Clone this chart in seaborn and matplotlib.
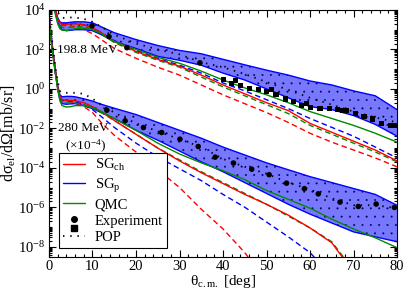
import numpy as np
import matplotlib
matplotlib.use('Agg')
import matplotlib.pyplot as plt
import seaborn as sns
from matplotlib.lines import Line2D
from matplotlib.patches import Patch
from matplotlib.legend_handler import HandlerBase
from matplotlib.ticker import LogLocator, MultipleLocator, NullFormatter

# scattering angle grid (deg) shared by all curves
ang = [0, 0.5, 1, 1.5, 2, 2.5, 3, 4, 5, 6, 8, 10, 12, 15, 20, 25, 30, 35, 40, 45, 50, 55, 60, 65, 70, 75, 80]

# ---- 198.8 MeV, log10(dsigma/dOmega) ----
band198_hi = [7.0, 6.0, 4.8, 4.0, 3.6, 3.4, 3.35, 3.35, 3.38, 3.4, 3.4, 3.35, 3.15, 2.85, 2.5, 2.2, 1.95, 1.78, 1.5, 1.22, 0.95, 0.7, 0.4, 0.2, -0.1, -0.35, -1.05]
band198_lo = [6.9, 5.9, 4.6, 3.8, 3.4, 3.15, 3.0, 2.95, 2.97, 3.0, 3.0, 2.95, 2.75, 2.4, 2.05, 1.65, 1.45, 1.2, 0.8, 0.45, 0.0, -0.45, -0.9, -1.05, -1.35, -1.8, -2.4]
pop198 = [7.2, 6.2, 5.0, 4.3, 3.9, 3.7, 3.6, 3.6, 3.62, 3.62, 3.55, 3.4, 3.15, 2.75, 2.3, 2.0, 1.75, 1.35, 1.1, 0.75, 0.35, -0.05, -0.45, -0.8, -1.15, -1.45, -1.7]
sgch198 = [7.0, 6.0, 4.75, 3.95, 3.55, 3.35, 3.28, 3.27, 3.3, 3.3, 3.25, 3.1, 2.85, 2.4, 1.9, 1.5, 1.15, 0.7, 0.2, -0.25, -0.7, -1.1, -1.75, -2.2, -2.65, -3.1, -3.65]
sgch198_d = [6.9, 5.9, 4.7, 3.9, 3.5, 3.3, 3.22, 3.2, 3.2, 3.15, 3.0, 2.8, 2.5, 2.05, 1.55, 1.1, 0.7, 0.2, -0.3, -0.75, -1.2, -1.7, -2.25, -2.7, -3.1, -3.5, -3.95]
sgp198_d = [7.0, 6.0, 4.75, 3.95, 3.55, 3.35, 3.3, 3.3, 3.32, 3.32, 3.25, 3.1, 2.85, 2.45, 1.95, 1.55, 1.2, 0.8, 0.3, -0.1, -0.55, -1.0, -1.5, -1.95, -2.4, -2.95, -3.5]
qmc198 = [6.8, 5.8, 4.55, 3.75, 3.3, 3.05, 2.98, 2.96, 3.0, 3.05, 3.08, 3.0, 2.8, 2.4, 2.0, 1.6, 1.3, 0.9, 0.45, 0.05, -0.3, -0.7, -1.15, -1.5, -1.85, -2.25, -2.7]
qmc198_d = [6.9, 5.9, 4.65, 3.85, 3.45, 3.22, 3.12, 3.1, 3.12, 3.15, 3.15, 3.05, 2.8, 2.35, 1.85, 1.45, 1.1, 0.6, 0.1, -0.35, -0.8, -1.25, -1.85, -2.3, -2.75, -3.2, -3.7]

exp198_circ_x = [9.9, 13.8, 17.9, 34.7]
exp198_circ_y = [3.2, 2.65, 2.09, 1.32]
exp198_sq_x = [40.1, 42.0, 42.9, 44.1, 46.1, 48.1, 50.0, 51.2, 52.2, 54.3, 56.2, 58.1, 59.2, 60.2, 62.3, 64.4, 66.4, 67.4, 68.4, 70.4, 72.4, 74.4, 76.5, 78.6, 80.0]
exp198_sq_y = [0.49, 0.29, 0.41, 0.17, 0.03, -0.05, -0.14, -0.02, -0.27, -0.51, -0.64, -0.85, -0.74, -0.95, -1.01, -1.01, -1.05, -1.1, -1.1, -1.23, -1.4, -1.53, -1.74, -1.84, -1.84]

# ---- 280 MeV (x 1e-4), log10 ----
band280_hi = [3.8, 2.7, 1.8, 0.95, 0.2, -0.3, -0.4, -0.38, -0.38, -0.4, -0.5, -0.62, -0.78, -0.98, -1.3, -1.7, -2.1, -2.5, -2.95, -3.35, -3.75, -4.1, -4.45, -4.75, -5.05, -5.35, -5.9]
band280_lo = [3.7, 2.6, 1.6, 0.75, 0.0, -0.55, -0.75, -0.78, -0.76, -0.75, -0.85, -1.0, -1.2, -1.5, -2.1, -2.6, -3.15, -3.7, -4.2, -4.75, -5.3, -5.85, -6.35, -6.8, -7.25, -7.5, -7.75]
pop280 = [3.9, 2.8, 1.9, 1.05, 0.4, -0.1, -0.2, -0.2, -0.2, -0.2, -0.25, -0.5, -0.8, -1.2, -1.75, -2.15, -2.55, -2.95, -3.55, -3.95, -4.3, -4.75, -5.1, -5.55, -5.9, -5.9, -6.05]
sgch280 = [3.7, 2.5, 1.7, 0.85, 0.1, -0.4, -0.55, -0.58, -0.58, -0.6, -0.7, -0.9, -1.15, -1.6, -2.3, -3.0, -3.65, -4.25, -4.8, -5.35, -5.85, -6.4, -7.05, -7.8, -9.3, np.nan, np.nan]
sgch280_d = [3.6, 2.4, 1.6, 0.75, 0.0, -0.45, -0.6, -0.62, -0.65, -0.7, -0.9, -1.2, -1.7, -2.35, -3.2, -4.1, -5.0, -6.1, -7.1, -8.3, -9.8, np.nan, np.nan, np.nan, np.nan, np.nan, np.nan]
sgp280_d = [3.7, 2.5, 1.7, 0.85, 0.1, -0.4, -0.55, -0.6, -0.62, -0.65, -0.8, -1.05, -1.4, -1.95, -2.75, -3.45, -4.05, -4.65, -5.35, -6.0, -6.75, -7.5, -8.3, -9.5, np.nan, np.nan, np.nan]
qmc280 = [3.6, 2.4, 1.6, 0.75, 0.0, -0.6, -0.85, -0.92, -0.9, -0.85, -0.85, -0.95, -1.15, -1.5, -2.1, -2.75, -3.3, -3.75, -4.15, -4.6, -5.15, -5.6, -6.05, -6.6, -7.1, -7.55, -8.05]
qmc280_d = [3.65, 2.45, 1.65, 0.8, 0.05, -0.5, -0.7, -0.72, -0.72, -0.72, -0.8, -0.95, -1.2, -1.6, -2.3, -3.0, -3.6, -4.2, -4.75, -5.3, -5.85, -6.45, -7.05, -7.75, -9.2, np.nan, np.nan]

exp280_x = [13.3, 17.5, 21.7, 25.9, 30.1, 34.3, 38.2, 42.4, 46.6, 50.6, 54.6, 58.7, 61.9, 66.9, 71.1, 75.2, 79.4]
exp280_y = [-1.08, -1.62, -1.96, -2.21, -2.55, -2.92, -3.46, -3.76, -4.07, -4.35, -4.78, -5.06, -5.32, -5.74, -5.96, -5.84, -6.01]

ytick_exp = [-8, -6, -4, -2, 0, 2, 4]

RED, BLUE, GREEN = '#ff0000', '#0000ff', '#008a00'
BANDC = '#7878ff'
DASH = (0, (4, 2.5))
DOTS = (0, (0.8, 3.2))

sns.set_style('ticks')
plt.rcParams['font.family'] = ['Liberation Serif', 'DejaVu Serif']
plt.rcParams['mathtext.fontset'] = 'custom'
plt.rcParams['mathtext.rm'] = 'Liberation Serif'
plt.rcParams['mathtext.it'] = 'Liberation Serif:italic'
plt.rcParams['hatch.linewidth'] = 0.2
for k in ['text.color', 'axes.labelcolor', 'xtick.color', 'ytick.color', 'axes.edgecolor']:
    plt.rcParams[k] = 'k'

fig = plt.figure(figsize=(4.11, 2.93), dpi=100, facecolor='white')
ax = fig.add_axes([0.1192, 0.1229, 0.8468, 0.8430], facecolor='white')


def p(v):
    return 10 ** np.asarray(v, dtype=float)


for hi, lo in [(band198_hi, band198_lo), (band280_hi, band280_lo)]:
    ax.fill_between(ang, p(lo), p(hi), facecolor=BANDC, edgecolor='#00005a', hatch='..', linewidth=0)
    sns.lineplot(x=ang, y=p(hi), color=BLUE, lw=1, ax=ax)
    sns.lineplot(x=ang, y=p(lo), color=BLUE, lw=1, ax=ax)

for q, qd, s, sd, pd_ in [(qmc198, qmc198_d, sgch198, sgch198_d, sgp198_d),
                          (qmc280, qmc280_d, sgch280, sgch280_d, sgp280_d)]:
    sns.lineplot(x=ang, y=p(sd), color=RED, lw=1, linestyle=DASH, ax=ax)
    sns.lineplot(x=ang, y=p(pd_), color=BLUE, lw=1, linestyle=DASH, ax=ax)
    sns.lineplot(x=ang, y=p(qd), color=GREEN, lw=1, linestyle=DASH, ax=ax)
    sns.lineplot(x=ang, y=p(s), color=RED, lw=1, ax=ax)
    sns.lineplot(x=ang, y=p(q), color=GREEN, lw=1, ax=ax)

for pp in [pop198, pop280]:
    sns.lineplot(x=ang, y=p(pp), color='k', lw=1.3, linestyle=DOTS, ax=ax)

sns.scatterplot(x=exp198_circ_x, y=p(exp198_circ_y), marker='o', color='k', s=16, edgecolor='none', ax=ax, zorder=5)
sns.scatterplot(x=exp198_sq_x, y=p(exp198_sq_y), marker='s', color='k', s=14, edgecolor='none', ax=ax, zorder=5)
sns.scatterplot(x=exp280_x, y=p(exp280_y), marker='o', color='k', s=16, edgecolor='none', ax=ax, zorder=5)

ax.set_yscale('log')
ax.set_xlim(0, 80)
ax.set_ylim(3e-9, 1e4)
ax.xaxis.set_major_locator(MultipleLocator(10))
ax.xaxis.set_minor_locator(MultipleLocator(2))
ax.set_yticks(p(ytick_exp))
ax.set_yticklabels(['10$^{%d}$' % e for e in ytick_exp])
ax.yaxis.set_minor_locator(LogLocator(base=10, subs=np.arange(1, 10), numticks=40))
ax.yaxis.set_minor_formatter(NullFormatter())
ax.set_ylim(3e-9, 1e4)
ax.tick_params(which='both', direction='in', top=True, right=True, labelsize=10.5, width=0.8, pad=2.5)
ax.tick_params(which='major', length=5)
ax.tick_params(which='minor', length=2.5)
for sp in ax.spines.values():
    sp.set_linewidth(0.8)

ax.set_xlabel('θ$_{\\rm c.m.}$ [deg]', fontsize=11, labelpad=0)
ax.set_ylabel('dσ$_{\\rm el}$/dΩ[mb/sr]', fontsize=11.5, labelpad=0)

ax.text(1.9, p(1.97), '198.8 MeV', fontsize=9.5, va='center')
ax.text(2.1, p(-1.97), '280 MeV', fontsize=9.5, va='center')
ax.text(3.6, p(-2.9), '(×10$^{-4}$)', fontsize=9.5, va='center')


class HandlerStack(HandlerBase):
    def create_artists(self, legend, orig_handle, xdescent, ydescent, width, height, fontsize, trans):
        x = width / 2 - xdescent
        y = height / 2 - ydescent
        c = Line2D([x], [y], marker='o', color='k', ms=4, ls='none', transform=trans)
        s = Line2D([x], [y - 6.5], marker='s', color='k', ms=3.8, ls='none', transform=trans)
        return [c, s]


exp_handle = Patch()
handles = [Line2D([], [], color=RED, lw=1), Line2D([], [], color=BLUE, lw=1),
           Line2D([], [], color=GREEN, lw=1), exp_handle,
           Line2D([], [], color='k', lw=1.3, linestyle=DOTS)]
labels = ['SG$_{\\rm ch}$', 'SG$_{\\rm p}$', 'QMC', 'Experiment', 'POP']
leg = ax.legend(handles, labels, handler_map={exp_handle: HandlerStack()},
                loc='upper left', bbox_to_anchor=(0.0287, 0.421), fontsize=10.5,
                frameon=True, fancybox=False, framealpha=1, edgecolor='k',
                handlelength=1.45, handletextpad=0.7, borderpad=0.3, labelspacing=0.22,
                borderaxespad=0)
leg.get_frame().set_linewidth(0.8)

fig.savefig('out.png', dpi=100, facecolor='white')
